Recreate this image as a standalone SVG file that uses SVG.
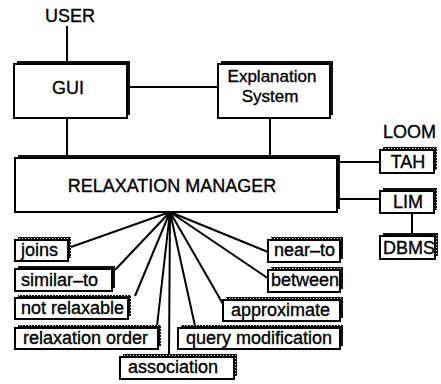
<svg xmlns="http://www.w3.org/2000/svg" width="441" height="384" viewBox="0 0 441 384">
<defs>
<pattern id="dots" width="3" height="3" patternUnits="userSpaceOnUse">
<rect width="3" height="3" fill="#111"/>
<rect x="1" y="1" width="1" height="1" fill="#ddd"/>
</pattern>
</defs>
<style>
text{font-family:"Liberation Sans",Arial,sans-serif;font-size:18px;fill:#000;stroke:#000;stroke-width:0.35}
.c{text-anchor:middle}
.e{font-size:17px}
.box{fill:#fff;stroke:#000;stroke-width:2}
.sh{fill:#111}
.shd{fill:url(#dots)}
.ln{stroke:#000;stroke-width:2;fill:none}
</style>
<rect width="441" height="384" fill="#fff"/>
<g id="connectors">
<line class="ln" x1="67" y1="26" x2="67" y2="62"/>
<line class="ln" x1="130" y1="87" x2="218" y2="87"/>
<line class="ln" x1="67" y1="118" x2="67" y2="156"/>
<line class="ln" x1="270" y1="118" x2="270" y2="156"/>
<line class="ln" x1="340" y1="162" x2="380" y2="162"/>
<line class="ln" x1="340" y1="199" x2="380" y2="199"/>
<line class="ln" x1="412" y1="212" x2="412" y2="234"/>
<g stroke="#000" stroke-width="2">
<line x1="170" y1="212" x2="71" y2="247"/>
<line x1="170" y1="212" x2="115" y2="270"/>
<line x1="170" y1="212" x2="135" y2="296"/>
<line x1="170" y1="212" x2="157" y2="326"/>
<line x1="170" y1="212" x2="169" y2="355"/>
<line x1="170" y1="212" x2="195" y2="326"/>
<line x1="170" y1="212" x2="223" y2="304"/>
<line x1="170" y1="212" x2="269" y2="279"/>
<line x1="170" y1="212" x2="268" y2="252"/>
</g>
</g>
<g id="user"><text class="c" x="70" y="22">USER</text></g>
<g id="gui">
<rect class="sh" x="17" y="61" width="113" height="54"/>
<rect class="box" x="14" y="64" width="113" height="54"/>
<text class="c" x="68" y="94">GUI</text>
</g>
<g id="explanation">
<rect class="sh" x="221" y="61" width="112" height="54"/>
<rect class="box" x="218" y="64" width="112" height="54"/>
<text class="c e" x="272" y="82">Explanation</text>
<text class="c e" x="270" y="102">System</text>
</g>
<g id="relaxation-manager">
<rect class="sh" x="18" y="155" width="322" height="54"/>
<rect class="box" x="15" y="158" width="322" height="54"/>
<text class="c" x="172" y="192">RELAXATION MANAGER</text>
</g>
<g id="loom"><text x="383" y="138">LOOM</text></g>
<g id="tah">
<rect class="shd" x="383" y="147" width="54" height="23"/>
<rect class="box" x="380" y="150" width="54" height="23"/>
<text class="c" x="408" y="168">TAH</text>
</g>
<g id="lim">
<rect class="shd" x="383" y="188" width="54" height="22"/>
<rect class="box" x="380" y="191" width="54" height="22"/>
<text class="c" x="408" y="208">LIM</text>
</g>
<g id="dbms">
<rect class="shd" x="383" y="233" width="55" height="23"/>
<rect class="box" x="380" y="236" width="55" height="23"/>
<text class="c" x="409" y="254">DBMS</text>
</g>
<g id="joins">
<rect class="shd" x="18" y="237" width="53" height="21"/>
<rect class="box" x="15" y="240" width="53" height="21"/>
<text x="21" y="256">joins</text>
</g>
<g id="similar-to">
<rect class="shd" x="18" y="266" width="97" height="22"/>
<rect class="box" x="15" y="269" width="97" height="22"/>
<text x="21" y="286">similar–to</text>
</g>
<g id="not-relaxable">
<rect class="shd" x="18" y="295" width="113" height="21"/>
<rect class="box" x="15" y="298" width="113" height="21"/>
<text x="21" y="314">not relaxable</text>
</g>
<g id="relaxation-order">
<rect class="shd" x="18" y="325" width="143" height="21"/>
<rect class="box" x="15" y="328" width="143" height="21"/>
<text x="23" y="344">relaxation order</text>
</g>
<g id="association">
<rect class="shd" x="123" y="354" width="114" height="22"/>
<rect class="box" x="120" y="357" width="114" height="22"/>
<text x="128" y="373">association</text>
</g>
<g id="query-modification">
<rect class="shd" x="181" y="325" width="162" height="21"/>
<rect class="box" x="178" y="328" width="162" height="21"/>
<text x="186" y="344">query modification</text>
</g>
<g id="approximate">
<rect class="shd" x="226" y="297" width="117" height="21"/>
<rect class="box" x="223" y="300" width="117" height="21"/>
<text x="231" y="316">approximate</text>
</g>
<g id="between">
<rect class="shd" x="271" y="267" width="72" height="22"/>
<rect class="box" x="268" y="270" width="72" height="22"/>
<text x="271" y="286">between</text>
</g>
<g id="near-to">
<rect class="shd" x="271" y="237" width="72" height="22"/>
<rect class="box" x="268" y="240" width="72" height="22"/>
<text x="274" y="256">near–to</text>
</g>
</svg>
